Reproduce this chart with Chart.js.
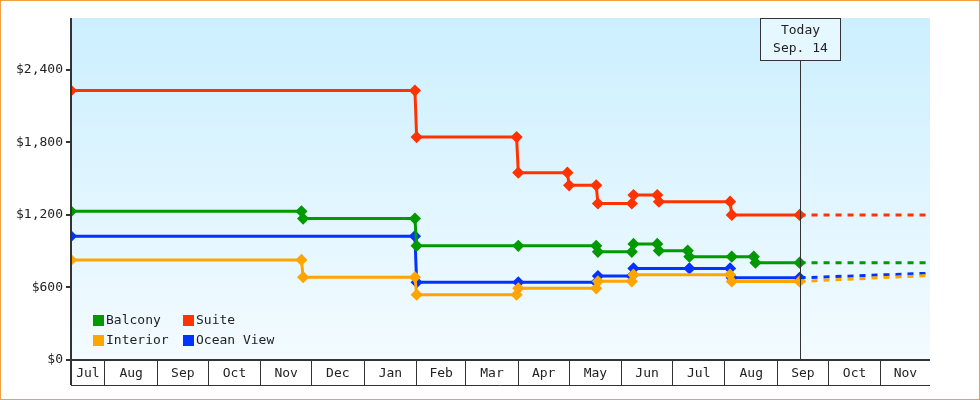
<!DOCTYPE html>
<html><head><meta charset="utf-8">
<script src="https://cdn.jsdelivr.net/npm/chart.js@4"></script>
<style>body{margin:0;background:#fff}canvas{display:block}</style>
</head><body>
<canvas id="c" width="980" height="400"></canvas>
<script>
// Price history (change dates, prices)
const seriesNames = ["Balcony", "Suite", "Interior", "Ocean View"];
const seriesColors = ["#009900", "#ff3300", "#ffa500", "#0033ff"];
const balconyDates = ["2023-07-12","2023-11-25","2023-11-26","2024-01-31","2024-02-01","2024-04-01","2024-05-17","2024-05-18","2024-06-07","2024-06-08","2024-06-22","2024-06-23","2024-07-10","2024-07-11","2024-08-05","2024-08-18","2024-08-19","2024-09-14"];
const balconyValues = [1230,1230,1170,1170,945,945,945,895,895,960,960,905,905,855,855,855,805,805];
const suiteDates = ["2023-07-12","2024-01-31","2024-02-01","2024-03-31","2024-04-01","2024-04-30","2024-05-01","2024-05-17","2024-05-18","2024-06-07","2024-06-08","2024-06-22","2024-06-23","2024-08-04","2024-08-05","2024-09-14"];
const suiteValues = [2230,2230,1845,1845,1550,1550,1445,1445,1295,1295,1365,1365,1310,1310,1200,1200];
const interiorDates = ["2023-07-12","2023-11-25","2023-11-26","2024-01-31","2024-02-01","2024-03-31","2024-04-01","2024-05-17","2024-05-18","2024-06-07","2024-06-08","2024-08-04","2024-08-05","2024-09-14"];
const interiorValues = [828,828,685,685,540,540,593,593,651,651,706,706,650,650];
const oceanDates = ["2023-07-12","2024-01-31","2024-02-01","2024-04-01","2024-05-17","2024-05-18","2024-06-07","2024-06-08","2024-07-11","2024-08-04","2024-08-05","2024-09-14"];
const oceanValues = [1025,1025,643,643,643,695,695,758,758,758,680,680];
// Forecast (dotted)
const forecastDates = ["2024-09-14","2024-11-30"];
const balconyForecast = [805,805];
const suiteForecast = [1200,1200];
const interiorForecast = [650,700];
const oceanForecast = [680,718];
const monthStarts = ["2023-08-01","2023-09-01","2023-10-01","2023-11-01","2023-12-01","2024-01-01","2024-02-01","2024-03-01","2024-04-01","2024-05-01","2024-06-01","2024-07-01","2024-08-01","2024-09-01","2024-10-01","2024-11-01"];
const monthLabels = ["Jul","Aug","Sep","Oct","Nov","Dec","Jan","Feb","Mar","Apr","May","Jun","Jul","Aug","Sep","Oct","Nov"];
const axisStart = "2023-07-12", axisEnd = "2024-11-30";
const todayDate = "2024-09-14";
const todayText = ["Today","Sep. 14"];

const day = s => Date.parse(s + "T00:00:00Z") / 86400000;
const pts = (d, v) => d.map((x, i) => ({x: day(x), y: v[i]}));
const FONT = "'DejaVu Sans Mono', monospace";

const mk = (i, d, v) => ({label: seriesNames[i], data: pts(d, v), borderColor: seriesColors[i], backgroundColor: seriesColors[i], borderWidth: 3, pointRadius: 4, pointHoverRadius: 4, pointStyle: 'rectRot'});
const fc = (i, v) => ({label: "", data: pts(forecastDates, v), borderColor: seriesColors[i], borderWidth: 3, borderDash: [6, 6], pointRadius: 0, forecast: true});

const bgPlugin = {
  id: 'bg',
  beforeDraw(c) {
    const {ctx, chartArea: a} = c;
    ctx.save();
    const g = ctx.createLinearGradient(0, a.top, 0, a.bottom);
    g.addColorStop(0, '#ccefff'); g.addColorStop(1, '#f3fbff');
    ctx.fillStyle = g; ctx.fillRect(a.left, a.top, a.right - a.left, a.bottom - a.top);
    ctx.strokeStyle = '#f0a040'; ctx.lineWidth = 1;
    ctx.strokeRect(0.5, 0.5, c.width - 1, c.height - 1);
    ctx.restore();
  },
  afterDraw(c) {
    const {ctx, chartArea: a, scales: {x}} = c;
    ctx.save();
    // month labels
    const bounds = [day(axisStart), ...monthStarts.map(day), day(axisEnd)];
    ctx.font = '13px ' + FONT; ctx.fillStyle = '#222'; ctx.textAlign = 'center'; ctx.textBaseline = 'middle';
    for (let i = 0; i < monthLabels.length; i++) {
      const m = (x.getPixelForValue(bounds[i]) + x.getPixelForValue(bounds[i + 1])) / 2;
      ctx.fillText(monthLabels[i], m, a.bottom + 14);
    }
    ctx.strokeStyle = '#333'; ctx.lineWidth = 1;
    ctx.beginPath(); ctx.moveTo(a.left, a.bottom + 25.5); ctx.lineTo(a.right, a.bottom + 25.5); ctx.stroke();
    ctx.lineWidth = 2;
    ctx.beginPath(); ctx.moveTo(a.left, a.top); ctx.lineTo(a.left, a.bottom + 25); ctx.stroke();
    ctx.beginPath(); ctx.moveTo(a.left, a.bottom); ctx.lineTo(a.right, a.bottom); ctx.stroke();
    // today marker
    const tx = Math.round(x.getPixelForValue(day(todayDate))) + 0.5;
    ctx.lineWidth = 1; ctx.strokeStyle = '#333';
    ctx.beginPath(); ctx.moveTo(tx, a.top + 42); ctx.lineTo(tx, a.bottom); ctx.stroke();
    ctx.fillStyle = '#e6f8ff'; ctx.fillRect(tx - 40, a.top, 80, 42);
    ctx.strokeRect(tx - 40, a.top + 0.5, 80, 42);
    ctx.fillStyle = '#222';
    ctx.fillText(todayText[0], tx, a.top + 13); ctx.fillText(todayText[1], tx, a.top + 31);
    // legend
    const pos = [[93, 320], [183, 320], [93, 340], [183, 340]];
    ctx.textAlign = 'left';
    seriesNames.forEach((n, i) => {
      ctx.fillStyle = seriesColors[i]; ctx.fillRect(pos[i][0], pos[i][1] - 5, 11, 11);
      ctx.fillStyle = '#222'; ctx.fillText(n, pos[i][0] + 13, pos[i][1] + 1);
    });
    ctx.restore();
  }
};

new Chart(document.getElementById('c'), {
  type: 'line',
  data: {datasets: [
    fc(0, balconyForecast), fc(1, suiteForecast), fc(2, interiorForecast), fc(3, oceanForecast),
    mk(0, balconyDates, balconyValues), mk(1, suiteDates, suiteValues), mk(2, interiorDates, interiorValues), mk(3, oceanDates, oceanValues)
  ]},
  options: {
    responsive: false, animation: false,
    layout: {padding: {left: 5, right: 50, top: 18, bottom: 15}},
    plugins: {legend: {display: false}, tooltip: {enabled: false}},
    elements: {line: {tension: 0}},
    scales: {
      x: {type: 'linear', min: day(axisStart), max: day(axisEnd),
        afterBuildTicks: s => { s.ticks = monthStarts.map(m => ({value: day(m)})); },
        ticks: {display: true, callback: () => '', padding: 0, font: {size: 1}},
        grid: {drawOnChartArea: false, tickLength: 25, color: '#333', lineWidth: 1},
        border: {display: false},
        afterFit: s => { s.height = 25; }},
      y: {min: 0, max: 2830,
        afterBuildTicks: s => { s.ticks = [0, 600, 1200, 1800, 2400].map(v => ({value: v})); },
        ticks: {color: '#222', font: {family: FONT, size: 13}, padding: 3,
          callback: v => '$' + v.toLocaleString('en-US')},
        grid: {drawOnChartArea: false, tickLength: 5, color: '#333', lineWidth: 2},
        border: {display: false},
        afterFit: s => { s.width = 66; }}
    }
  },
  plugins: [bgPlugin]
});
</script>
</body></html>
